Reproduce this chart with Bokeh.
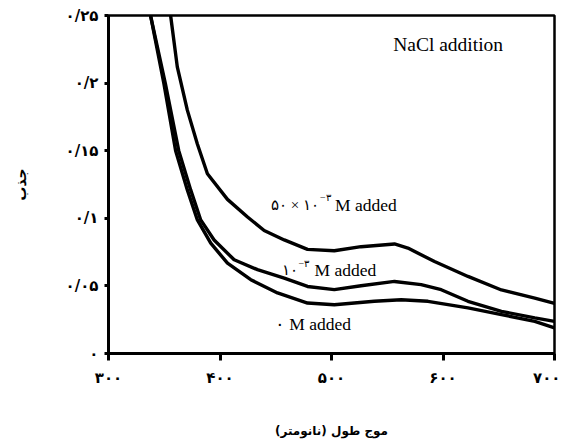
from bokeh.plotting import figure
from bokeh.models import Range1d, FixedTicker
from bokeh.core.properties import value
from bokeh.embed import file_html
from bokeh.resources import INLINE

# ---- data ----
wl_50 = [350, 355.7, 361.7, 370.7, 379.7, 388.7, 406.7, 424.7, 439.6, 457.6, 478.5,
         502.5, 526.5, 556.5, 568.5, 592.4, 622.4, 652.4, 682.3, 700]
abs_50 = [0.285, 0.25, 0.212, 0.18, 0.155, 0.133, 0.114, 0.101, 0.091, 0.084, 0.077,
          0.076, 0.079, 0.081, 0.078, 0.068, 0.057, 0.047, 0.041, 0.037]

wl_1 = [333, 337.7, 351, 363, 373.7, 382.7, 394.7, 412.7, 433.6, 457.6, 478.5,
        502.5, 526.5, 556.5, 580.4, 598.4, 622.4, 652.4, 682.3, 700]
abs_1 = [0.28, 0.25, 0.1996, 0.150, 0.121, 0.0988, 0.084, 0.0693, 0.062, 0.0558, 0.0496,
         0.0472, 0.0501, 0.0533, 0.0509, 0.0472, 0.0386, 0.0312, 0.0263, 0.0238]

wl_0 = [332, 337.7, 349.7, 360.2, 370.7, 379.7, 391.7, 406.7, 427.6, 451.6, 478.5,
        502.5, 538.4, 562.5, 586.5, 622.4, 652.4, 682.3, 700]
abs_0 = [0.275, 0.25, 0.1996, 0.150, 0.121, 0.0988, 0.0816, 0.0668, 0.0546, 0.0448, 0.0373,
         0.0361, 0.0386, 0.0398, 0.0386, 0.0337, 0.0288, 0.0238, 0.019]

x_ticks = [300, 400, 500, 600, 700]
x_tick_labels = ["۳۰۰", "۴۰۰", "۵۰۰", "۶۰۰", "۷۰۰"]
y_ticks = [0, 0.05, 0.1, 0.15, 0.2, 0.25]
y_tick_labels = ["۰", "۰/۰۵", "۰/۱", "۰/۱۵", "۰/۲", "۰/۲۵"]

# words laid out left-to-right as in the reference picture
x_title = "(نانومتر) موج طول"
y_title = "جذب"

title_text = "NaCl addition"
lab_50_pre, lab_50_sup, lab_50_post = "۵۰ × ۱۰", "−۳", "M added"
lab_1_pre, lab_1_sup, lab_1_post = "۱۰", "−۳", "M added"
lab_0 = "۰ M added"

# ---- figure ----
p = figure(width=560, height=440, output_backend="svg", toolbar_location=None,
           x_range=Range1d(300, 700), y_range=Range1d(0, 0.25),
           min_border_left=108, min_border_right=6, min_border_top=15, min_border_bottom=86)
p.grid.visible = False
p.outline_line_color = "black"
p.outline_line_width = 2.5
p.background_fill_color = "white"
p.border_fill_color = "white"

for xs, ys in [(wl_50, abs_50), (wl_1, abs_1), (wl_0, abs_0)]:
    p.line(xs, ys, line_color="black", line_width=3.4)

ax = p.xaxis[0]
ax.ticker = FixedTicker(ticks=x_ticks)
ax.major_label_overrides = {t: l for t, l in zip(x_ticks, x_tick_labels)}
ay = p.yaxis[0]
ay.ticker = FixedTicker(ticks=y_ticks)
ay.major_label_overrides = {t: l for t, l in zip(y_ticks, y_tick_labels)}

for a in (ax, ay):
    a.axis_line_width = 3
    a.axis_line_color = "black"
    a.major_tick_line_width = 3
    a.major_tick_in = 0
    a.minor_tick_line_color = None
    a.major_label_text_font = "DejaVu Sans"
    a.major_label_text_font_style = "bold"
    a.major_label_text_font_size = "15px"
    a.major_label_text_color = "black"
    a.axis_label_text_font = "DejaVu Sans"
    a.axis_label_text_font_style = "bold"
    a.axis_label_text_font_size = "12px"
    a.axis_label_text_color = "black"

ax.major_tick_out = 7
ax.major_label_standoff = 8
ax.axis_label = x_title
ax.axis_label_standoff = 34
ay.major_tick_out = 4
ay.major_label_standoff = 6
ay.axis_label = y_title
ay.axis_label_standoff = 34
ay.axis_label_text_font_size = "14px"

serif = value("Liberation Serif")
p.text(x=[555.3], y=[0.2286], text=[title_text], text_font=serif, text_font_size="19.5px",
       text_baseline="middle", text_align="left", text_color="black")

# 50 x 10^-3 M added
p.text(x=[489.7], y=[0.1099], text=[lab_50_pre], text_font=serif, text_font_size="15px",
       text_baseline="middle", text_align="right", x_offset=-1, text_color="black")
p.text(x=[489.7], y=[0.1099], text=[lab_50_sup], text_font=serif, text_font_size="10px",
       text_baseline="middle", text_align="left", y_offset=-7, text_color="black")
p.text(x=[489.7], y=[0.1099], text=[lab_50_post], text_font=serif, text_font_size="17.5px",
       text_baseline="middle", text_align="left", x_offset=15, text_color="black")

# 10^-3 M added
p.text(x=[470.5], y=[0.0616], text=[lab_1_pre], text_font=serif, text_font_size="15px",
       text_baseline="middle", text_align="right", x_offset=-1, text_color="black")
p.text(x=[470.5], y=[0.0616], text=[lab_1_sup], text_font=serif, text_font_size="10px",
       text_baseline="middle", text_align="left", y_offset=-7, text_color="black")
p.text(x=[470.5], y=[0.0616], text=[lab_1_post], text_font=serif, text_font_size="17.5px",
       text_baseline="middle", text_align="left", x_offset=16, text_color="black")

# 0 M added
p.text(x=[449.2], y=[0.0218], text=[lab_0], text_font=serif, text_font_size="17.5px",
       text_baseline="middle", text_align="left", text_color="black")

open("out.html", "w").write(file_html(p, INLINE))
